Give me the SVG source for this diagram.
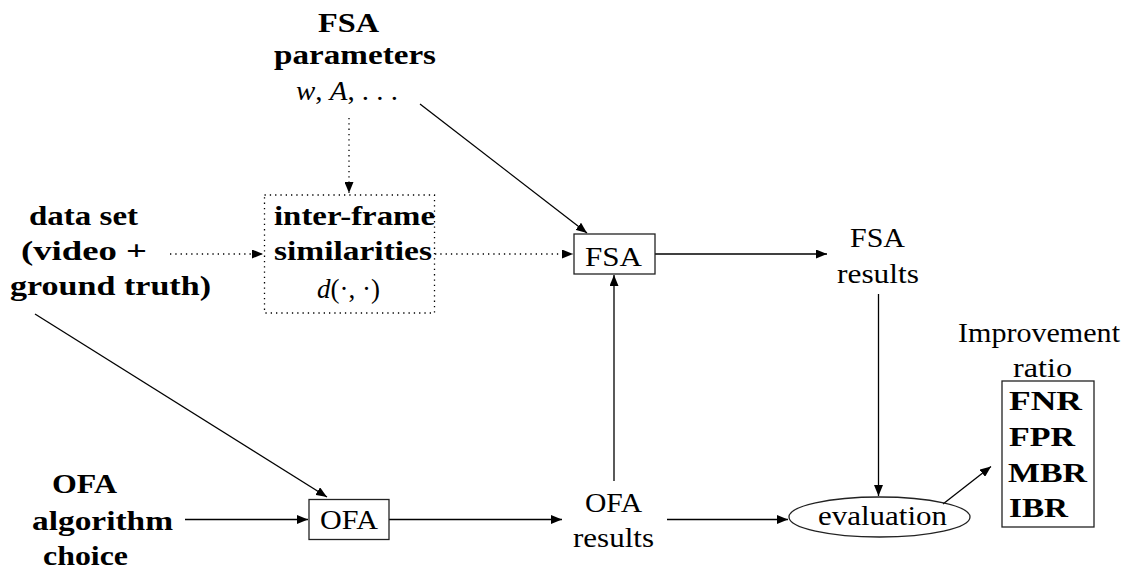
<svg xmlns="http://www.w3.org/2000/svg" width="1138" height="572" viewBox="0 0 1138 572">
<style>
text{font-size:28px;fill:#000}
.b{font-weight:bold}
.i{font-style:italic}
.box{fill:none;stroke:#222;stroke-width:1.3}
.ln{fill:none;stroke:#000;stroke-width:1.3}
.dot{fill:none;stroke:#000;stroke-width:1.3;stroke-dasharray:1.3 4}
</style>
<defs>
<marker id="ah" markerUnits="userSpaceOnUse" markerWidth="12" markerHeight="9" refX="11" refY="4.5" orient="auto">
<path d="M0,0 L11,4.5 L0,9 Z" fill="#000"/>
</marker>
</defs>
<rect width="1138" height="572" fill="#fff"/>
<g font-family="'Liberation Serif', 'DejaVu Serif', serif">
<g id="connectors">
<line class="dot" x1="349" y1="118" x2="349" y2="193" marker-end="url(#ah)"/>
<line class="ln" x1="420" y1="104" x2="587" y2="233" marker-end="url(#ah)"/>
<line class="dot" x1="170" y1="254" x2="263" y2="254" marker-end="url(#ah)"/>
<line class="dot" x1="435" y1="254" x2="573" y2="254" marker-end="url(#ah)"/>
<line class="ln" x1="655" y1="254" x2="827" y2="254" marker-end="url(#ah)"/>
<line class="ln" x1="878.5" y1="294" x2="878.5" y2="496" marker-end="url(#ah)"/>
<line class="ln" x1="35" y1="314" x2="327" y2="497" marker-end="url(#ah)"/>
<line class="ln" x1="185" y1="519.5" x2="308" y2="519.5" marker-end="url(#ah)"/>
<line class="ln" x1="389" y1="519.5" x2="562" y2="519.5" marker-end="url(#ah)"/>
<line class="ln" x1="614" y1="481" x2="614" y2="275" marker-end="url(#ah)"/>
<line class="ln" x1="667" y1="519.5" x2="788" y2="519.5" marker-end="url(#ah)"/>
<line class="ln" x1="943" y1="504" x2="991" y2="466.5" marker-end="url(#ah)"/>
</g>

<g id="fsa-params">
<text class="b" x="318" y="32" textLength="61" lengthAdjust="spacingAndGlyphs">FSA</text>
<text class="b" x="274" y="64" textLength="162" lengthAdjust="spacingAndGlyphs">parameters</text>
<text x="296" y="100" textLength="102" lengthAdjust="spacingAndGlyphs"><tspan class="i">w</tspan>, <tspan class="i">A</tspan>, . . .</text>
</g>

<g id="data-set">
<text class="b" x="29" y="225" textLength="109" lengthAdjust="spacingAndGlyphs">data set</text>
<text class="b" x="21" y="260" textLength="126" lengthAdjust="spacingAndGlyphs">(video +</text>
<text class="b" x="10" y="295" textLength="201" lengthAdjust="spacingAndGlyphs">ground truth)</text>
</g>

<g id="similarities">
<rect class="dot" x="264.5" y="195" width="170" height="118"/>
<text class="b" x="274" y="225" textLength="161" lengthAdjust="spacingAndGlyphs">inter-frame</text>
<text class="b" x="274" y="260" textLength="158" lengthAdjust="spacingAndGlyphs">similarities</text>
<text x="317" y="298" textLength="63" lengthAdjust="spacingAndGlyphs"><tspan class="i">d</tspan>(·, ·)</text>
</g>

<g id="fsa">
<rect class="box" x="574" y="234" width="81" height="40"/>
<text x="585" y="266" textLength="57" lengthAdjust="spacingAndGlyphs">FSA</text>
</g>

<g id="fsa-results">
<text x="850" y="247" textLength="55" lengthAdjust="spacingAndGlyphs">FSA</text>
<text x="837" y="283" textLength="82" lengthAdjust="spacingAndGlyphs">results</text>
</g>

<g id="ofa-choice">
<text class="b" x="52" y="493" textLength="65" lengthAdjust="spacingAndGlyphs">OFA</text>
<text class="b" x="32" y="530" textLength="141" lengthAdjust="spacingAndGlyphs">algorithm</text>
<text class="b" x="43" y="565" textLength="85" lengthAdjust="spacingAndGlyphs">choice</text>
</g>

<g id="ofa">
<rect class="box" x="309" y="499.5" width="80" height="40"/>
<text x="320" y="529" textLength="58" lengthAdjust="spacingAndGlyphs">OFA</text>
</g>

<g id="ofa-results">
<text x="585" y="512" textLength="57" lengthAdjust="spacingAndGlyphs">OFA</text>
<text x="573" y="547" textLength="81" lengthAdjust="spacingAndGlyphs">results</text>
</g>

<g id="evaluation">
<ellipse class="box" cx="879.5" cy="517" rx="90.5" ry="20"/>
<text x="818" y="525" textLength="129" lengthAdjust="spacingAndGlyphs">evaluation</text>
</g>

<g id="improvement">
<text x="958" y="342" textLength="162" lengthAdjust="spacingAndGlyphs">Improvement</text>
<text x="1013" y="377" textLength="59" lengthAdjust="spacingAndGlyphs">ratio</text>
<rect class="box" x="1002" y="381" width="92" height="146"/>
<text class="b" x="1009" y="410" textLength="73" lengthAdjust="spacingAndGlyphs">FNR</text>
<text class="b" x="1009" y="446" textLength="66" lengthAdjust="spacingAndGlyphs">FPR</text>
<text class="b" x="1008" y="482" textLength="79" lengthAdjust="spacingAndGlyphs">MBR</text>
<text class="b" x="1009" y="517" textLength="59" lengthAdjust="spacingAndGlyphs">IBR</text>
</g>
</g>
</svg>
